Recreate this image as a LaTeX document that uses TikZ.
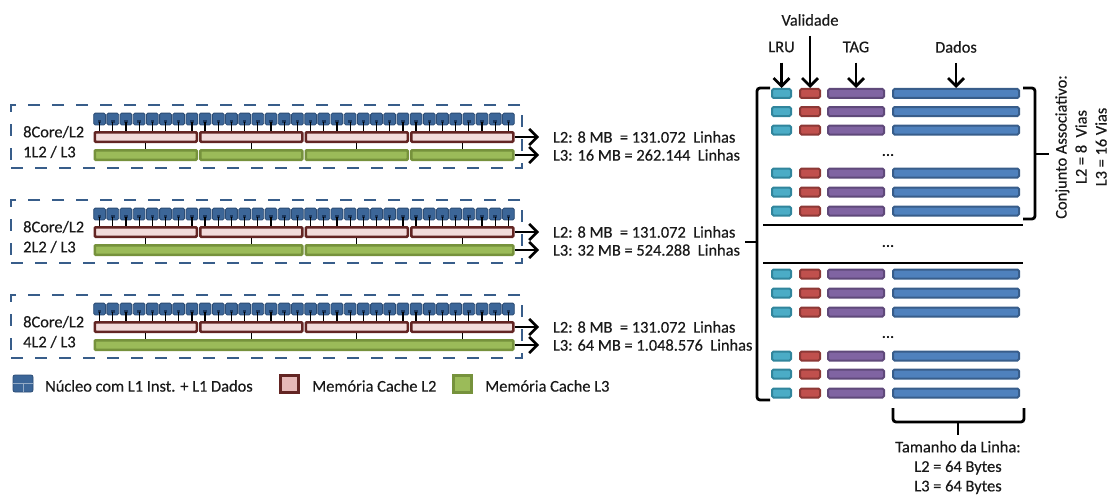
\documentclass[tikz,border=0pt]{standalone}
\usepackage{fontspec}
\setmainfont{Carlito}[FakeBold=0.4]
\usetikzlibrary{arrows.meta}
\definecolor{coreblue}{RGB}{60,102,152}
\definecolor{coreedge}{RGB}{44,76,116}
\definecolor{coredark}{RGB}{28,56,94}
\definecolor{dashblue}{RGB}{56,93,138}
\definecolor{ltwofill}{RGB}{242,220,219}
\definecolor{ltwolegend}{RGB}{230,185,184}
\definecolor{ltwoedge}{RGB}{99,37,35}
\definecolor{lthreefill}{RGB}{155,187,89}
\definecolor{lthreeedge}{RGB}{118,146,60}
\definecolor{lrufill}{RGB}{75,172,198}
\definecolor{lruedge}{RGB}{49,133,156}
\definecolor{valfill}{RGB}{192,80,77}
\definecolor{valedge}{RGB}{140,56,54}
\definecolor{tagfill}{RGB}{128,100,162}
\definecolor{tagedge}{RGB}{95,73,122}
\definecolor{datfill}{RGB}{79,129,189}
\definecolor{datedge}{RGB}{56,93,138}
\definecolor{txt}{RGB}{25,25,25}
\begin{document}
\begin{tikzpicture}[x=1pt,y=-1pt,
  font=\fontsize{16.4}{19}\selectfont, text=txt,
  dbox/.style={draw=dashblue, line width=2.8pt, dash pattern=on 12pt off 12pt, inner sep=0pt, minimum width=511pt, minimum height=63pt},
  core/.style={draw=coreedge, fill=coreblue, line width=0.8pt, rounded corners=1.5pt, minimum size=11.8pt, inner sep=0pt},
  coredot/.style={fill=coredark, minimum size=3.5pt, inner sep=0pt},
  ltwo/.style={draw=ltwoedge, fill=ltwofill, line width=2.5pt, rounded corners=1pt, minimum height=9.5pt, inner sep=0pt},
  lthree/.style={draw=lthreeedge, fill=lthreefill, line width=2.5pt, rounded corners=1pt, minimum height=9.5pt, inner sep=0pt},
  tick/.style={black, line width=1.3pt},
  arr/.style={black, line width=2.6pt, -{Straight Barb[length=8pt,width=16pt]}},
  varr/.style={black, line width=2.8pt, shorten <=7pt, -{Straight Barb[length=8pt,width=16pt]}},
  rowlab/.style={anchor=west, inner sep=0pt},
  reslab/.style={anchor=west, inner xsep=0pt, outer xsep=14pt, inner ysep=0pt},
  cell/.style={line width=2pt, rounded corners=1.5pt, minimum height=9pt, inner sep=0pt},
  lrus/.style={cell, draw=lruedge, fill=lrufill, minimum width=19pt},
  vals/.style={cell, draw=valedge, fill=valfill, minimum width=20pt},
  tags/.style={cell, draw=tagedge, fill=tagfill, minimum width=56pt},
  dats/.style={cell, draw=datedge, fill=datfill, minimum width=126pt},
  dotsl/.style={inner sep=0pt},
  hdr/.style={inner sep=3pt},
  brk/.style={black, line width=2.8pt, rounded corners=3pt},
  sepline/.style={black, line width=2.8pt},
  lgtext/.style={anchor=west, inner sep=0pt},
  lgcore/.style={fill=coreblue, draw=coreedge, line width=0.8pt, rounded corners=2pt, minimum width=20pt, minimum height=17pt, inner sep=0pt},
  lgl2/.style={draw=ltwoedge, fill=ltwolegend, line width=2.6pt, minimum width=18.5pt, minimum height=17.5pt, inner sep=0pt},
  lgl3/.style={draw=lthreeedge, fill=lthreefill, line width=2.6pt, minimum width=18.5pt, minimum height=17.5pt, inner sep=0pt}
]
\useasboundingbox (0,0) rectangle (1109,495);

% ---------- left panel: three configurations ----------
\foreach \r/\n/\lab/\mb in {0/4/1L2/{16 MB = 262.144},1/2/2L2/{32 MB = 524.288},2/1/4L2/{64 MB = 1.048.576}} {
  \pgfmathsetmacro\dy{95*\r}
  \node[dbox] (box-\r) at (266.5,{136.5+\dy}) {};
  % L2 segments
  \foreach \j in {0,...,3} {
    \node[ltwo, minimum width=102pt] (l2-\r-\j) at ({93+105.5*(\j+0.5)},{137+\dy}) {};
  }
  % L3 segments
  \pgfmathsetmacro\w{422/\n}
  \pgfmathsetmacro\wm{\w-3.5}
  \pgfmathtruncatemacro\last{\n-1}
  \foreach \k in {0,...,\last} {
    \node[lthree, minimum width=\wm pt] (l3-\r-\k) at ({93+\w*(\k+0.5)},{155+\dy}) {};
  }
  % L2 -> L3 connectors
  \foreach \j in {0,...,3} {
    \draw[tick] (l2-\r-\j.south) -- (l2-\r-\j.south |- l3-\r-0.north);
  }
  % cores
  \foreach \i in {0,...,31} {
    \pgfmathsetmacro\cx{93+13.1875*(\i+0.5)}
    \pgfmathtruncatemacro\sg{int(\i/8)}
    \node[core] (core-\r-\i) at (\cx,{119+\dy}) {};
    \node[coredot] (cdot-\r-\i) at (\cx,{121.5+\dy}) {};
    \draw[tick] (cdot-\r-\i.center) -- (cdot-\r-\i.center |- l2-\r-\sg.north);
  }
  % labels
  \node[rowlab] (ra-\r) at (23,{132+\dy}) {8Core/L2};
  \node[rowlab] (rb-\r) at (23,{152+\dy}) {\lab\ / L3};
  \node[reslab] (t2-\r) at (539,{137+\dy}) {L2: 8 MB\ \ = 131.072\ \ Linhas};
  \node[reslab] (t3-\r) at (539,{155+\dy}) {L3: \mb\ \ Linhas};
  \draw[arr] (l2-\r-3.east) -- (t2-\r.west);
  \draw[arr] (l3-\r-\last.east) -- (t3-\r.west);
}

% ---------- legend ----------
\node[lgcore] (lg1) at (23,383.5) {};
\draw[coreblue!55!white, line width=1pt] (lg1.west) -- (lg1.east);
\draw[coreblue!55!white, line width=1pt] (lg1.center) -- (lg1.south);
\node[lgtext] (lt1) at (45,386) {Núcleo com L1 Inst. + L1 Dados};
\node[lgl2] (lg2) at (289.5,384) {};
\node[lgtext] (lt2) at (312,386) {Memória Cache L2};
\node[lgl3] (lg3) at (462.5,384) {};
\node[lgtext] (lt3) at (485,386) {Memória Cache L3};

% ---------- cache structure ----------
\foreach \k/\yy in {0/93.5,1/111.5,2/130,3/173,4/192,5/211,6/274,7/293,8/312,9/356,10/374,11/393} {
  \node[lrus] (lru-\k) at (781.5,\yy) {};
  \node[vals] (val-\k) at (810,\yy) {};
  \node[tags] (tag-\k) at (856,\yy) {};
  \node[dats] (dat-\k) at (956,\yy) {};
}
\node[dotsl] (dots1) at (888,155) {...};
\node[dotsl] (dots2) at (888,246) {...};
\node[dotsl] (dots3) at (888,337) {...};
\draw[sepline] (763,225) -- (1023,225);
\draw[sepline] (763,263) -- (1023,263);

\node[hdr] (hval) at (810,20) {Validade};
\node[hdr] (hlru) at (781.5,47) {LRU};
\node[hdr] (htag) at (856,47) {TAG};
\node[hdr] (hdat) at (956,47) {Dados};
\draw[varr] (hval) -- (val-0);
\draw[varr] (hlru) -- (lru-0);
\draw[varr] (htag) -- (tag-0);
\draw[varr] (hdat) -- (dat-0);

% brackets
\draw[brk] (770,88) -- (757,88) -- (757,400) -- (770,400);
\draw[brk] (757,242) -- (745,242);
\draw[brk] (1023,88) -- (1035,88) -- (1035,219) -- (1023,219);
\draw[brk] (1035,154) -- (1049,154);
\draw[brk] (893,408) -- (893,422) -- (1024,422) -- (1024,408);
\draw[brk] (958,422) -- (958,435);

\node[rotate=90, align=center, inner sep=0pt, font=\fontsize{16.4}{20}\selectfont] (assoc) at (1081,147) {Conjunto Associativo:\\L2 = 8\ \ Vias\\L3 = 16 Vias};
\node[align=center, inner sep=0pt, font=\fontsize{16.4}{19.5}\selectfont] (tam) at (958,467.5) {Tamanho da Linha:\\L2 = 64 Bytes\\L3 = 64 Bytes};
\end{tikzpicture}
\end{document}
